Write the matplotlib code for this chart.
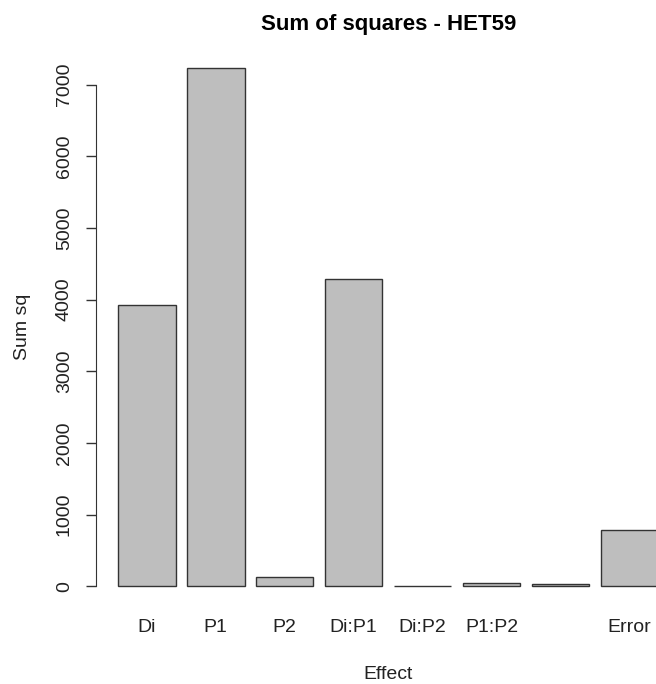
import matplotlib
matplotlib.use('Agg')
import matplotlib.pyplot as plt
import numpy as np

plt.rcParams['font.family'] = ['Liberation Sans', 'DejaVu Sans']

effects = ['Di', 'P1', 'P2', 'Di:P1', 'Di:P2', 'P1:P2', '', 'Error']
sum_sq = [3925, 7235, 125, 4290, 5, 45, 30, 785]

# barplot layout: width 1, space 0.2
width = 1.0
space = 0.2
left = space + np.arange(len(sum_sq)) * (width + space)
centers = left + width / 2

fig = plt.figure(figsize=(6.56, 6.84), dpi=100)
ax = fig.add_axes([0.147, 0.1126, 0.8896, 0.8187])

ax.bar(centers, sum_sq, width=width, color='#bebebe', edgecolor='#333333', linewidth=1.0)

xr = left[-1] + width - left[0]
ax.set_xlim(left[0] - 0.04 * xr, left[-1] + width + 0.04 * xr)
yr = max(sum_sq)
ax.set_ylim(-0.04 * yr, 1.04 * yr)

for s in ['top', 'right', 'bottom']:
    ax.spines[s].set_visible(False)
ax.spines['left'].set_bounds(0, 7000)
ax.spines['left'].set_color('#333333')

fs = 14
ax.set_yticks(np.arange(0, 7001, 1000))
ax.set_yticklabels([str(v) for v in range(0, 7001, 1000)], rotation=90, va='center')
ax.tick_params(axis='y', length=7, width=1, colors='#333333', labelsize=fs, pad=10,
               labelcolor='#222222')

ax.set_xticks(centers)
ax.set_xticklabels(effects)
ax.tick_params(axis='x', length=0, labelsize=fs, pad=9, labelcolor='#222222')

ax.set_xlabel('Effect', fontsize=fs, labelpad=21, color='#222222')
ax.set_ylabel('Sum sq', fontsize=fs, labelpad=18, color='#222222')
ax.set_title('Sum of squares - HET59', fontsize=16, fontweight='bold', pad=12)

fig.savefig('out.png', dpi=100)
